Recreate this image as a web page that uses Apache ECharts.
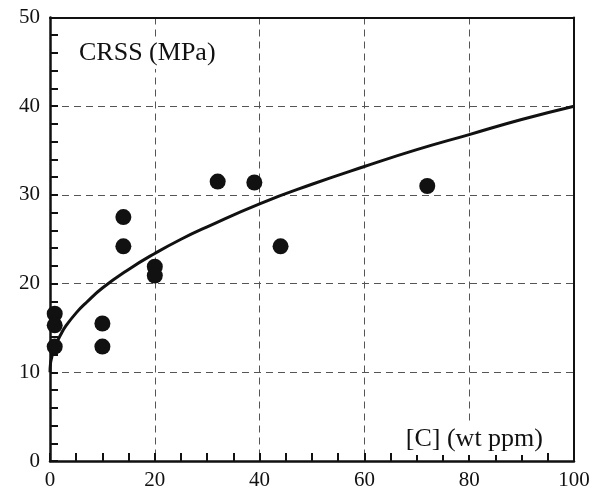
<!DOCTYPE html>
<html lang="en">
<head>
    <meta charset="UTF-8">
    <title>CRSS vs C</title>
    <script src="https://cdn.jsdelivr.net/npm/echarts@6/dist/echarts.min.js"></script>
    <style>
        html, body { margin: 0; padding: 0; background: #fff; }
        #chart { width: 597px; height: 489px; }
    </style>
</head>
<body>
<div id="chart"></div>
<script>
    // measured points: carbon content (wt ppm) and CRSS (MPa)
    var carbon = [0.9, 0.9, 0.9, 10, 10, 14, 14, 20, 20, 32, 39, 44, 72];
    var crss   = [16.6, 15.3, 12.9, 15.5, 12.9, 27.5, 24.2, 21.9, 20.9, 31.5, 31.4, 24.2, 31.0];

    // fitted curve
    var fitX = [0, 0.1, 0.3, 0.6, 1, 2, 3, 5, 7, 10, 15, 20, 25, 30, 40, 50, 60, 70, 80, 90, 100];
    var fitY = [10, 11.0, 11.6, 12.3, 13.0, 14.2, 15.2, 16.7, 17.9, 19.5, 21.6, 23.4, 25.0, 26.4, 29.0, 31.2, 33.2, 35.1, 36.8, 38.5, 40.0];

    var xTicks = [0, 20, 40, 60, 80, 100];
    var yTicks = [0, 10, 20, 30, 40, 50];

    var font = "'Liberation Serif', 'DejaVu Serif', serif";
    var chart = echarts.init(document.getElementById('chart'));

    var pts = carbon.map(function (c, i) { return [c, crss[i]]; });
    var fit = fitX.map(function (x, i) { return [x, fitY[i]]; });

    var dash = { color: '#555', width: 1, type: [7, 5] };

    chart.setOption({
        animation: false,
        grid: { left: 50, right: 23, top: 17.5, bottom: 28, outerBoundsMode: 'none', containLabel: false },
        xAxis: [{
            type: 'value', min: xTicks[0], max: xTicks[xTicks.length - 1], interval: 20,
            axisLine: { lineStyle: { color: '#111', width: 2.5 } },
            axisTick: { inside: true, length: 8, lineStyle: { color: '#111', width: 2 } },
            minorTick: { show: true, splitNumber: 4, length: 8, lineStyle: { color: '#111', width: 2 } },
            axisLabel: { color: '#111', fontFamily: font, fontSize: 21, margin: 9 },
            splitLine: { show: true, showMinLine: false, showMaxLine: false, lineStyle: dash }
        }, {
            type: 'value', position: 'top', min: 0, max: 100,
            axisLine: { onZero: false, lineStyle: { color: '#111', width: 2 } },
            axisTick: { show: false }, axisLabel: { show: false }, splitLine: { show: false }
        }],
        yAxis: [{
            type: 'value', min: yTicks[0], max: yTicks[yTicks.length - 1], interval: 10,
            axisLine: { show: true, lineStyle: { color: '#111', width: 2.5 } },
            axisTick: { show: true, inside: true, length: 8, lineStyle: { color: '#111', width: 2 } },
            minorTick: { show: true, splitNumber: 5, length: 8, lineStyle: { color: '#111', width: 2 } },
            axisLabel: { color: '#111', fontFamily: font, fontSize: 21, margin: 10 },
            splitLine: { show: true, showMinLine: false, showMaxLine: false, lineStyle: dash }
        }, {
            type: 'value', position: 'right', min: 0, max: 50,
            axisLine: { show: true, onZero: false, lineStyle: { color: '#111', width: 2 } },
            axisTick: { show: false }, axisLabel: { show: false }, splitLine: { show: false }
        }],
        graphic: [{
            type: 'text', x: 76, y: 53, z: 10,
            style: { text: 'CRSS (MPa)', font: "26px " + font, fill: '#111',
                     align: 'left', verticalAlign: 'middle',
                     backgroundColor: '#fff', padding: [3, 3] }
        }, {
            type: 'text', x: 546, y: 439, z: 10,
            style: { text: '[C] (wt ppm)', font: "26px " + font, fill: '#111',
                     align: 'right', verticalAlign: 'middle',
                     backgroundColor: '#fff', padding: [3, 3] }
        }],
        series: [{
            type: 'line', data: fit, smooth: true, showSymbol: false, z: 3,
            lineStyle: { color: '#111', width: 3 }
        }, {
            type: 'scatter', data: pts, symbolSize: 16, z: 4,
            itemStyle: { color: '#111', opacity: 1 }
        }]
    });
</script>
</body>
</html>
